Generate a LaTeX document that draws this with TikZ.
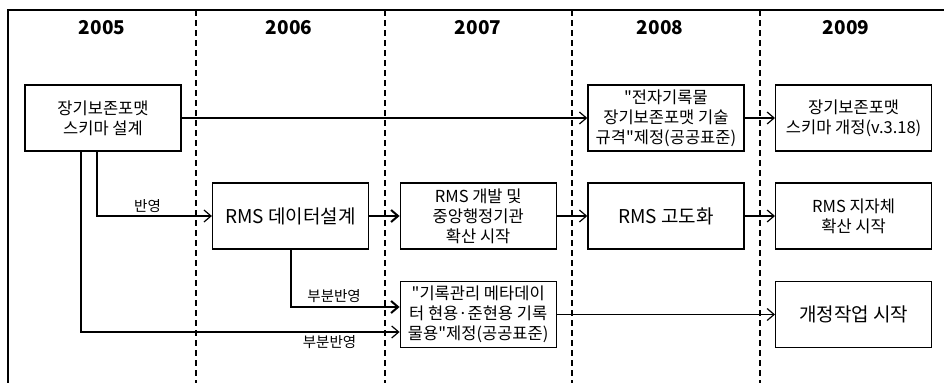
\documentclass[tikz,border=0pt]{standalone}
\usepackage{fontspec}
\setmainfont{Noto Sans CJK KR}[Ligatures=TeXOff]
\usetikzlibrary{arrows.meta}

\begin{document}
\begin{tikzpicture}[x=1pt, y=-1pt, ->, >={Straight Barb[length=7pt,width=12pt]}, line width=1.2pt, node distance=187.7pt,
    box/.style={draw, rectangle, -, minimum width=156pt, minimum height=66pt, align=center, inner sep=2pt, font=\fontsize{16.5}{20}\selectfont},
    bigbox/.style={box, font=\fontsize{19}{22}\selectfont},
    year/.style={font=\fontsize{19}{22}\selectfont\bfseries},
    lbl/.style={font=\fontsize{14.5}{16}\selectfont, inner sep=3pt},
    heavy/.style={line width=2pt},
    grid/.style={-, dash pattern=on 6pt off 4pt}]
    \useasboundingbox (0,0) rectangle (944,383);

    % frame and year columns
    \draw[-] (944,10) -- (8,10) -- (8,383);
    \foreach \x in {196,385,572,760}
        \draw[grid] (\x,10) -- (\x,383);
    \foreach \x/\yr in {102/2005, 289/2006, 478/2007, 660/2008, 846/2009}
        \node[year] (y\yr) at (\x,28) {\yr};

    % boxes
    \node[box] (fmt05) at (103,118) {장기보존포맷\\스키마 설계};
    \node[bigbox] (rms06) at (290.5,216) {RMS 데이터설계};
    \node[box] (rms07) [right of=rms06] {RMS 개발 및\\중앙행정기관\\확산 시작};
    \node[bigbox] (rms08) [right of=rms07] {RMS 고도화};
    \node[box] (rms09) [right of=rms08] {RMS 지자체\\확산 시작};
    \node[box] (std08) [node distance=98pt, above of=rms08] {"전자기록물\\장기보존포맷 기술\\규격"제정(공공표준)};
    \node[box] (fmt09) [right of=std08] {장기보존포맷\\스키마 개정(v.3.18)};
    \node[box] (meta07) [node distance=98.5pt, below of=rms07] {"기록관리 메타데이\\터 현용·준현용 기록\\물용"제정(공공표준)};
    \node[bigbox] (rev09) [node distance=98.5pt, below of=rms09] {개정작업 시작};

    % connectors
    \path
        (fmt05) edge (std08)
        (std08) edge (fmt09)
        (rms07) edge (rms08)
        (rms08) edge (rms09)
        (meta07) edge (rev09)
    ;
    \draw[heavy] (rms06) -- (rms07);
    \draw ([xshift=-6pt]fmt05.south) |- node[lbl, pos=0.72, above] {반영} (rms06);
    \draw ([xshift=-22pt]fmt05.south) |- node[lbl, pos=0.89, below] {부분반영} ([yshift=-17.5pt]meta07.west);
    \draw[heavy] (rms06.south) |- node[lbl, pos=0.7, above] {부분반영} ([yshift=7.5pt]meta07.west);
\end{tikzpicture}
\end{document}
